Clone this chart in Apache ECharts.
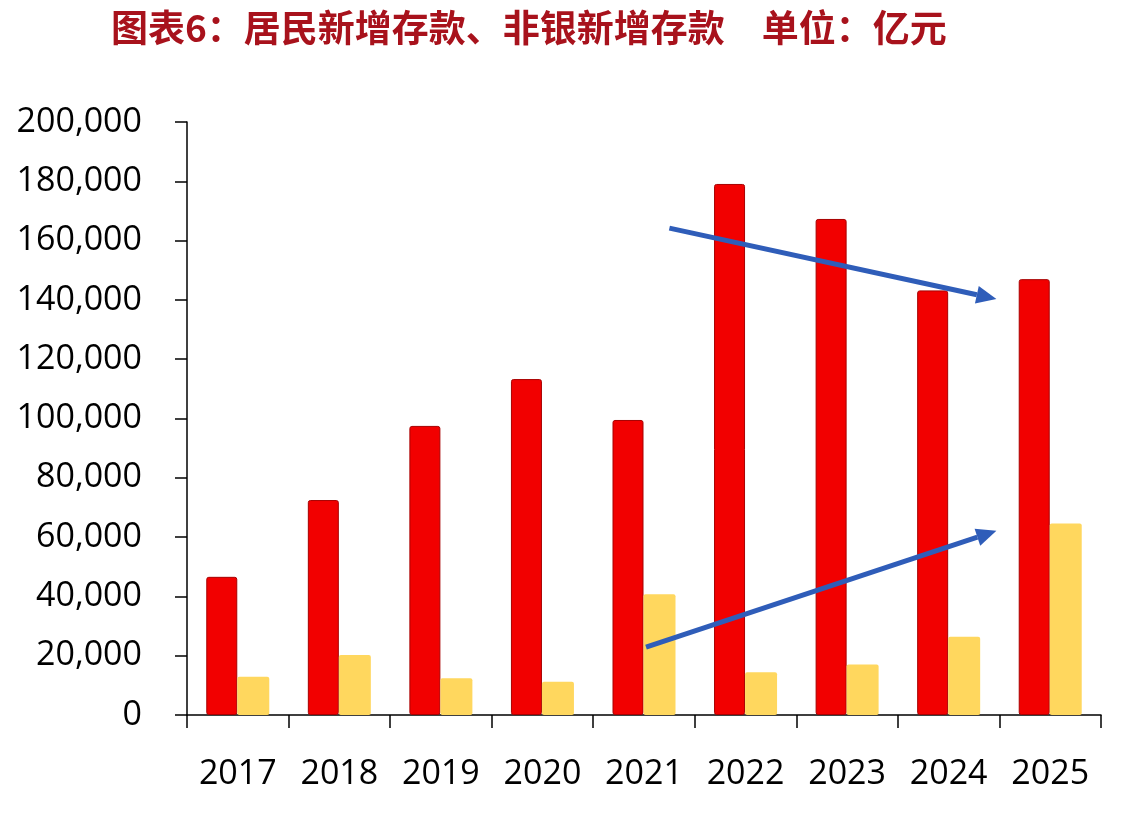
<!DOCTYPE html>
<html>
<head>
<meta charset="utf-8">
<script src="https://cdn.jsdelivr.net/npm/echarts@6/dist/echarts.min.js"></script>
<style>
    html, body { margin: 0; padding: 0; background: #fff; }
    #main { width: 1122px; height: 816px; }
</style>
</head>
<body>
<div id="main"></div>
<script>
    // 数据
    var years = ['2017', '2018', '2019', '2020', '2021', '2022', '2023', '2024', '2025'];
    var household = [46600, 72500, 97500, 113300, 99500, 179100, 167300, 143200, 147000]; // 居民新增存款
    var nonbank = [12900, 20200, 12400, 11200, 40700, 14400, 17000, 26400, 64600];        // 非银新增存款
    var yMin = 0, yMax = 200000, yStep = 20000;
    // 趋势箭头（类目序号, 数值）
    var arrowDown = [[4.25, 164200], [7.47, 140300]];
    var arrowUp = [[4.02, 22900], [7.47, 62100]];

    var labelFont = 'Open Sans';
    var myChart = echarts.init(document.getElementById('main'));
    var option = {
        animation: false,
        title: {
            text: '图表6：居民新增存款、非银新增存款　单位：亿元',
            left: 106,
            top: 4,
            textStyle: {
                color: '#A8121C',
                fontSize: 37,
                fontWeight: 'bold',
                fontFamily: 'Noto Sans CJK SC'
            }
        },
        grid: { left: 187, right: 21, top: 122, bottom: 101 },
        xAxis: {
            type: 'category',
            data: years,
            axisLine: { lineStyle: { color: '#000', width: 1.5 } },
            axisTick: { show: true, length: 13, lineStyle: { color: '#000', width: 1.5 } },
            axisLabel: { color: '#000', fontSize: 34, fontFamily: labelFont, margin: 42, interval: 0 }
        },
        yAxis: {
            type: 'value',
            min: yMin,
            max: yMax,
            interval: yStep,
            splitLine: { show: false },
            axisLine: { show: true, lineStyle: { color: '#000', width: 1.5 } },
            axisTick: { show: true, length: 12, lineStyle: { color: '#000', width: 1.5 } },
            axisLabel: {
                color: '#000',
                fontSize: 34,
                fontFamily: labelFont,
                margin: 45,
                formatter: function (v) { return v.toLocaleString('en-US'); }
            }
        },
        series: [
            {
                name: '居民新增存款',
                type: 'bar',
                data: household,
                barWidth: 31,
                barGap: '0%',
                itemStyle: { color: '#F20000', borderColor: '#A80000', borderWidth: 1, borderRadius: 2 }
            },
            {
                name: '非银新增存款',
                type: 'bar',
                data: nonbank,
                barWidth: 32,
                itemStyle: { color: '#FFD75E', borderRadius: 2 }
            }
        ]
    };
    myChart.setOption(option);

    // 把箭头端点换成像素坐标再画
    function toPx(pt) {
        var x0 = myChart.convertToPixel({ xAxisIndex: 0 }, 0);
        var x1 = myChart.convertToPixel({ xAxisIndex: 0 }, 1);
        return [x0 + (x1 - x0) * pt[0], myChart.convertToPixel({ yAxisIndex: 0 }, pt[1])];
    }
    function arrow(pts) {
        var a = toPx(pts[0]), b = toPx(pts[1]);
        var dx = b[0] - a[0], dy = b[1] - a[1];
        var len = Math.sqrt(dx * dx + dy * dy);
        var ux = dx / len, uy = dy / len;
        var headL = 20, headW = 9;
        var bx = b[0] - ux * headL, by = b[1] - uy * headL;
        var color = '#2F5DB9';
        return [
            {
                type: 'line',
                shape: { x1: a[0], y1: a[1], x2: bx, y2: by },
                style: { stroke: color, lineWidth: 5 },
                z: 100
            },
            {
                type: 'polygon',
                shape: { points: [[b[0], b[1]], [bx - uy * headW, by + ux * headW], [bx + uy * headW, by - ux * headW]] },
                style: { fill: color },
                z: 100
            }
        ];
    }
    myChart.setOption({ graphic: arrow(arrowDown).concat(arrow(arrowUp)) });
</script>
</body>
</html>
